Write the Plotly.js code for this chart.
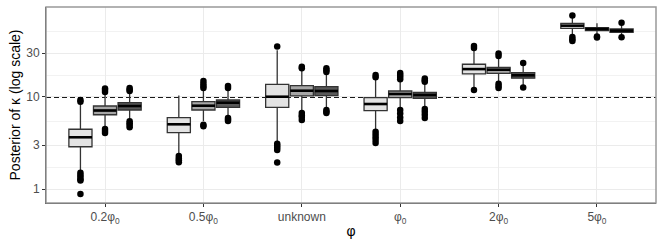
<!DOCTYPE html>
<html>
<head>
<meta charset="utf-8">
<script src="https://cdn.plot.ly/plotly-3.0.1.min.js"></script>
<style>html,body{margin:0;padding:0;background:#fff;}#chart{width:664px;height:249px;}</style>
</head>
<body>
<div id="chart"></div>
<script>
// categories on the x axis (φ values)
const categories = ['0.2φ<sub>0</sub>', '0.5φ<sub>0</sub>', 'unknown', 'φ<sub>0</sub>', '2φ<sub>0</sub>', '5φ<sub>0</sub>'];
const seriesNames = ['series 1', 'series 2', 'series 3'];
const refLine = 10;

// box statistics per series (rows) and category (columns)
const lowerWhisker = [
  [1.57, 2.46, 3.3, 4.49, 12.4, 46.3],
  [4.72, 5.5, 7.05, 7.6, 14.5, 47.1],
  [5.6, 6.2, 7.6, 7.73, 12.9, 46.0]
];
const q1 = [
  [2.88, 4.09, 7.73, 7.10, 17.8, 55.8],
  [6.41, 7.22, 10.26, 9.83, 18.1, 52.6],
  [7.22, 7.73, 10.33, 9.68, 16.0, 50.5]
];
const median = [
  [3.65, 5.05, 10.07, 8.39, 20.1, 59.6],
  [7.13, 8.04, 11.7, 10.78, 19.8, 54.8],
  [7.98, 8.67, 11.62, 10.52, 17.2, 52.6]
];
const q3 = [
  [4.46, 5.96, 13.7, 9.83, 22.7, 63.2],
  [7.98, 8.89, 13.27, 11.62, 21.0, 56.7],
  [8.67, 9.28, 12.94, 11.25, 18.4, 54.8]
];
const upperWhisker = [
  [8.4, 10.4, 32.3, 15.7, 32.2, 73.9],
  [10.8, 11.9, 19.5, 14.9, 26.3, 63.2],
  [11.2, 11.9, 18.2, 13.9, 22.7, 60.4]
];
// outlying points per category
const outliers1 = [
  [8.9, 9.3, 1.5, 1.42, 1.35, 1.28, 1.24, 0.88],
  [2.28, 2.15, 2.05, 1.95],
  [35.4, 3.1, 2.95, 2.8, 2.65, 1.94],
  [16.4, 17.3, 4.2, 3.9, 3.65, 3.4, 3.16],
  [34.0, 35.8, 11.9],
  [76.9, 44.9, 42.5, 40.5]
];
const outliers2 = [
  [11.3, 11.9, 12.4, 4.49, 4.27, 4.06],
  [12.5, 13.2, 13.9, 14.9, 5.0, 4.8],
  [20.5, 21.3, 6.7, 6.3, 6.06, 5.63],
  [15.6, 16.5, 17.3, 18.2, 7.2, 6.6, 6.0, 5.5],
  [27.9, 29.7, 13.9, 13.2, 12.5],
  [45.5, 44.2]
];
const outliers3 = [
  [11.6, 12.0, 12.5, 5.45, 5.2, 4.95, 4.7],
  [12.5, 13.2, 5.9, 5.7, 5.5],
  [18.7, 19.5, 20.5, 7.2, 6.9, 6.7],
  [14.6, 15.2, 15.9, 7.4, 6.9, 6.4, 5.9],
  [23.4, 12.7],
  [63.9, 44.7]
];
const outliers = [outliers1, outliers2, outliers3];

const yTicks = [1, 3, 10, 30];

// styling
const fills = ['#e3e3e3', '#a6a6a6', '#595959'];
const dodge = [-0.25, 0, 0.25];
const boxW = 0.235;

const traces = [];
const medX = [], medY = [];
const outX = [], outY = [];
for (let s = 0; s < 3; s++) {
  const xs = categories.map((c, i) => i + dodge[s]);
  traces.push({
    type: 'box', name: seriesNames[s], x: xs,
    q1: q1[s], median: median[s], q3: q3[s],
    lowerfence: lowerWhisker[s], upperfence: upperWhisker[s],
    width: boxW, whiskerwidth: 0,
    fillcolor: fills[s],
    line: {color: '#333333', width: 1.3},
    boxpoints: false, hoverinfo: 'skip', showlegend: false
  });
  xs.forEach((x, i) => {
    medX.push(x - boxW / 2, x + boxW / 2, null);
    medY.push(median[s][i], median[s][i], null);
    outliers[s][i].forEach(v => { outX.push(x); outY.push(v); });
  });
}
traces.push({
  type: 'scatter', mode: 'lines', x: medX, y: medY,
  line: {color: '#000000', width: 2.6}, hoverinfo: 'skip', showlegend: false
});
traces.push({
  type: 'scatter', mode: 'markers', x: outX, y: outY,
  marker: {color: '#000000', size: 6.5}, hoverinfo: 'skip', showlegend: false
});

const minorVals = [];
for (let i = 0; i < yTicks.length; i++) {
  const a = Math.log10(yTicks[i]);
  const b = i + 1 < yTicks.length ? Math.log10(yTicks[i + 1]) : a + (a - Math.log10(yTicks[i - 1]));
  minorVals.push(Math.pow(10, (a + b) / 2));
}

const font = 'Liberation Sans, Arial, sans-serif';
const layout = {
  width: 664, height: 249,
  margin: {l: 46, r: 8, t: 7, b: 46},
  paper_bgcolor: '#ffffff', plot_bgcolor: '#ffffff',
  showlegend: false,
  font: {family: font, size: 12, color: '#4d4d4d'},
  xaxis: {
    range: [-0.6, 5.6], tickmode: 'array',
    tickvals: categories.map((c, i) => i), ticktext: categories,
    showgrid: true, gridcolor: '#ebebeb', gridwidth: 1,
    zeroline: false, showline: true, linecolor: '#333333', linewidth: 1,
    ticks: 'outside', ticklen: 3, tickcolor: '#333333',
    tickfont: {family: font, size: 12, color: '#4d4d4d'},
    title: {text: 'φ', font: {family: font, size: 14, color: '#000000'}, standoff: 1}
  },
  yaxis: {
    type: 'log', range: [-0.152, 1.978], tickmode: 'array',
    tickvals: yTicks, ticktext: yTicks.map(String),
    showgrid: true, gridcolor: '#ebebeb', gridwidth: 1,
    minor: {tickmode: 'array', tickvals: minorVals, showgrid: true, gridcolor: '#f2f2f2', gridwidth: 1, ticks: ''},
    zeroline: false, showline: true, linecolor: '#333333', linewidth: 1,
    ticks: 'outside', ticklen: 3, tickcolor: '#333333',
    tickfont: {family: font, size: 12, color: '#4d4d4d'},
    title: {text: 'Posterior of κ (log scale)', font: {family: font, size: 14, color: '#000000'}, standoff: 2}
  },
  shapes: [
    {type: 'rect', xref: 'paper', yref: 'paper', x0: 0, x1: 1, y0: 0, y1: 1,
     line: {color: '#999999', width: 1.5}, fillcolor: 'rgba(0,0,0,0)', layer: 'above'},
    {type: 'line', xref: 'paper', yref: 'y', x0: 0, x1: 1, y0: refLine, y1: refLine,
     line: {color: '#1a1a1a', width: 2, dash: '5px,3px'}, layer: 'below'}
  ]
};

Plotly.newPlot('chart', traces, layout, {staticPlot: true, displayModeBar: false});
</script>
</body>
</html>
